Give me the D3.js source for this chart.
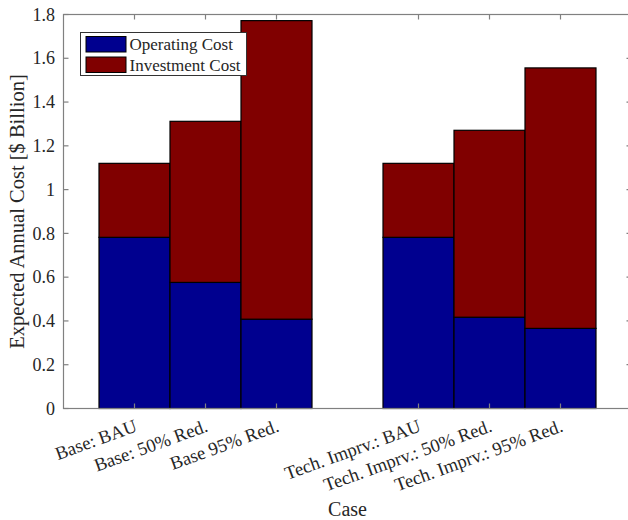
<!DOCTYPE html>
<html>
<head>
<meta charset="utf-8">
<script src="https://cdn.jsdelivr.net/npm/d3@7"></script>
<style>
  body { margin: 0; background: #fff; }
  svg text { font-family: "Liberation Serif", "Times New Roman", serif; fill: #262626; }
</style>
</head>
<body>
<div id="chart"></div>
<script>
// Data
const cases = ["Base: BAU", "Base: 50% Red.", "Base 95% Red.",
               "Tech. Imprv.: BAU", "Tech. Imprv.: 50% Red.", "Tech. Imprv.: 95% Red."];
const positions = [1, 2, 3, 5, 6, 7];
const operatingCost = [0.782, 0.576, 0.408, 0.782, 0.417, 0.366];
const investmentCost = [0.338, 0.736, 1.364, 0.338, 0.854, 1.190];
const seriesNames = ["Operating Cost", "Investment Cost"];
const seriesColors = ["#00008f", "#800000"];
const yTicks = [0, 0.2, 0.4, 0.6, 0.8, 1, 1.2, 1.4, 1.6, 1.8];

const W = 628, H = 520;
const axisGray = "#808080";
const tickLen = 5;

const svg = d3.select("#chart").append("svg")
  .attr("width", W)
  .attr("height", H);

// plot box (right edge sits just past the picture, as in the reference)
const x = d3.scaleLinear().domain([0, 8]).range([63.5, 631.5]);
const y = d3.scaleLinear().domain([0, 1.8]).range([408.5, 14.5]);

const rows = cases.map((c, i) => ({
  name: c,
  pos: positions[i],
  op: operatingCost[i],
  inv: investmentCost[i]
}));

// bars
const bars = svg.append("g");
bars.selectAll("rect.op")
  .data(rows)
  .enter().append("rect")
  .attr("x", d => x(d.pos - 0.5))
  .attr("width", d => x(d.pos + 0.5) - x(d.pos - 0.5))
  .attr("y", d => y(d.op))
  .attr("height", d => y(0) - y(d.op))
  .attr("fill", seriesColors[0])
  .attr("stroke", "#000")
  .attr("stroke-width", 1.2);

bars.selectAll("rect.inv")
  .data(rows)
  .enter().append("rect")
  .attr("x", d => x(d.pos - 0.5))
  .attr("width", d => x(d.pos + 0.5) - x(d.pos - 0.5))
  .attr("y", d => y(d.op + d.inv))
  .attr("height", d => y(d.op) - y(d.op + d.inv))
  .attr("fill", seriesColors[1])
  .attr("stroke", "#000")
  .attr("stroke-width", 1.2);

// axes box with inward ticks (drawn on top of the bars)
const axes = svg.append("g")
  .attr("stroke", axisGray)
  .attr("stroke-width", 1.2)
  .attr("fill", "none");

axes.append("rect")
  .attr("x", x(0))
  .attr("y", y(1.8))
  .attr("width", x(8) - x(0))
  .attr("height", y(0) - y(1.8));

positions.forEach(p => {
  axes.append("line")
    .attr("x1", x(p)).attr("x2", x(p))
    .attr("y1", y(0)).attr("y2", y(0) - tickLen);
  axes.append("line")
    .attr("x1", x(p)).attr("x2", x(p))
    .attr("y1", y(1.8)).attr("y2", y(1.8) + tickLen);
});

yTicks.forEach(t => {
  axes.append("line")
    .attr("x1", x(0)).attr("x2", x(0) + tickLen)
    .attr("y1", y(t)).attr("y2", y(t));
  axes.append("line")
    .attr("x1", x(8)).attr("x2", x(8) - tickLen)
    .attr("y1", y(t)).attr("y2", y(t));
});

// y tick labels
svg.append("g").selectAll("text")
  .data(yTicks)
  .enter().append("text")
  .attr("x", x(0) - 8.5)
  .attr("y", d => y(d))
  .attr("dy", "0.34em")
  .attr("text-anchor", "end")
  .attr("font-size", 18)
  .text(d => String(+d.toFixed(1)));

// rotated x tick labels
svg.append("g").selectAll("text")
  .data(rows)
  .enter().append("text")
  .attr("transform", d => `translate(${x(d.pos) + 3.5},${y(0) + 22.5}) rotate(-20)`)
  .attr("text-anchor", "end")
  .attr("font-size", 18.6)
  .text(d => d.name);

// axis titles
svg.append("text")
  .attr("transform", `translate(24,${(y(0) + y(1.8)) / 2}) rotate(-90)`)
  .attr("text-anchor", "middle")
  .attr("font-size", 20.5)
  .text("Expected Annual Cost [$ Billion]");

svg.append("text")
  .attr("x", (x(0) + x(8)) / 2)
  .attr("y", 516)
  .attr("text-anchor", "middle")
  .attr("font-size", 20)
  .text("Case");

// legend
const legend = svg.append("g");
legend.append("rect")
  .attr("x", 80.5).attr("y", 32.5)
  .attr("width", 166).attr("height", 43)
  .attr("fill", "#fff")
  .attr("stroke", "#333")
  .attr("stroke-width", 1);

seriesNames.forEach((s, i) => {
  legend.append("rect")
    .attr("x", 86).attr("y", 36.5 + i * 20.5)
    .attr("width", 40).attr("height", 15.5)
    .attr("fill", seriesColors[i])
    .attr("stroke", "#000")
    .attr("stroke-width", 1);
  legend.append("text")
    .attr("x", 129.5).attr("y", 44.5 + i * 20.5)
    .attr("dy", "0.34em")
    .attr("font-size", 17)
    .text(s);
});
</script>
</body>
</html>
